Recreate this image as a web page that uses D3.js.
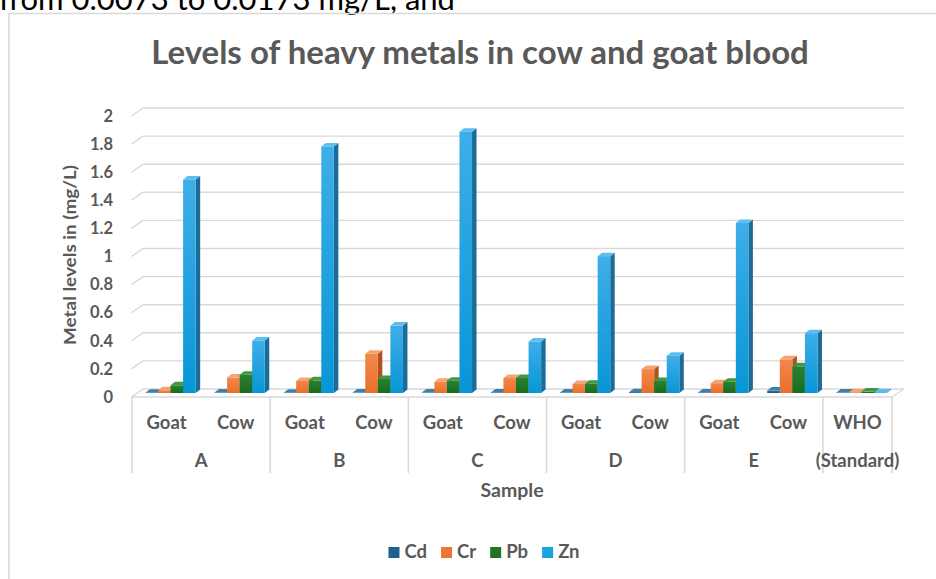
<!DOCTYPE html>
<html>
<head>
<meta charset="utf-8">
<script src="https://cdn.jsdelivr.net/npm/d3@7"></script>
<style>
  html, body { margin: 0; padding: 0; background: #fff; }
  svg { display: block; }
  text { font-family: Lato, "Open Sans", sans-serif; }
</style>
</head>
<body>
<div id="chart"></div>
<script>
// ---------------- data ----------------
const slotLabels  = ["Goat", "Cow", "Goat", "Cow", "Goat", "Cow", "Goat", "Cow", "Goat", "Cow", "WHO"];
const groupLabels = ["A", "B", "C", "D", "E", "(Standard)"];
const groupSpans  = [2, 2, 2, 2, 2, 1];
const seriesNames = ["Cd", "Cr", "Pb", "Zn"];
const cdValues = [0.002, 0.003, 0.002, 0.003, 0.003, 0.004, 0.003, 0.006, 0.004, 0.0173, 0.003];
const crValues = [0.02, 0.11, 0.086, 0.28, 0.08, 0.107, 0.064, 0.17, 0.07, 0.24, 0.005];
const pbValues = [0.055, 0.13, 0.09, 0.10, 0.088, 0.107, 0.066, 0.086, 0.08, 0.19, 0.01];
const znValues = [1.52, 0.374, 1.755, 0.48, 1.86, 0.367, 0.974, 0.266, 1.21, 0.426, 0.005];
const yTicks = [0, 0.2, 0.4, 0.6, 0.8, 1, 1.2, 1.4, 1.6, 1.8, 2];
const titleText = "Levels of heavy metals in cow and goat blood";
const yAxisTitle = "Metal levels in (mg/L)";
const xAxisTitle = "Sample";
const topFragment = "from 0.0073 to 0.0173 mg/L, and";

// ---------------- styles ----------------
const seriesValues = [cdValues, crValues, pbValues, znValues];
const colors = {
  Cd: { front1: "#2a6d98", front2: "#1d5a82", side: "#143f5c", topFace: "#3f80ab", legend: "#1f5f8b" },
  Cr: { front1: "#f3874a", front2: "#e8702a", side: "#b0521c", topFace: "#f6a271", legend: "#ee7634" },
  Pb: { front1: "#2a8130", front2: "#186b1e", side: "#114d15", topFace: "#3f9a45", legend: "#1f7425" },
  Zn: { front1: "#3eaee8", front2: "#0896d6", side: "#1b6c98", topFace: "#5dbdee", legend: "#1aa3e3" }
};
const W = 936, H = 579;
const textColor = "#595959";
const gridColor = "#d9d9d9";
const DX = 11.5, DY = 8;      // wall depth
const BX = 4, BY = 4;         // bar front-face offset into depth
const TX = 4.5, TY = 3.5;     // bar depth (top face)

const svg = d3.select("#chart").append("svg").attr("width", W).attr("height", H);
const defs = svg.append("defs");
seriesNames.forEach(s => {
  const g = defs.append("linearGradient").attr("id", "g" + s)
    .attr("x1", 0).attr("y1", 0).attr("x2", 0).attr("y2", 1);
  g.append("stop").attr("offset", "0%").attr("stop-color", colors[s].front1);
  g.append("stop").attr("offset", "100%").attr("stop-color", colors[s].front2);
});

// top fragment of surrounding text (cut off at the top, as in the source page)
svg.append("text").attr("x", -1).attr("y", 10)
  .attr("font-size", 31).attr("fill", "#000").text(topFragment);

// chart frame
svg.append("path")
  .attr("d", `M9,${H + 2} L9,13.5 L${W + 2},13.5`)
  .attr("fill", "none").attr("stroke", gridColor).attr("stroke-width", 1.6);

// title
svg.append("text").attr("x", 480).attr("y", 64).attr("text-anchor", "middle")
  .attr("font-size", 33).attr("font-weight", "bold").attr("fill", textColor).text(titleText);

// scales
const x0 = 132, x1 = 892;
const xSlot = d3.scaleBand().domain(d3.range(slotLabels.length)).range([x0, x1]).padding(0);
const xSeries = d3.scaleBand().domain(seriesNames).range([0, xSlot.bandwidth()])
  .paddingInner(0).paddingOuter(0.75);
const y = d3.scaleLinear().domain([0, 2]).range([397, 116]);

// gridlines (left wall + back wall)
const grid = svg.append("g");
yTicks.forEach(t => {
  grid.append("path")
    .attr("d", `M${x0 - 0.5},${y(t)} L${x0 - 0.5 + DX},${y(t) - DY} L904,${y(t) - DY}`)
    .attr("fill", "none").attr("stroke", gridColor).attr("stroke-width", 1.4);
});
// floor right edge
grid.append("path").attr("d", `M${x1},${y(0)} L${x1 + 12},${y(0) - DY}`)
  .attr("fill", "none").attr("stroke", gridColor).attr("stroke-width", 1.2);

// y axis labels
const yAxis = d3.axisLeft(y).tickValues(yTicks).tickSize(0).tickPadding(0)
  .tickFormat(d => d3.format("~g")(d));
const yg = svg.append("g").attr("transform", "translate(113,0)").call(yAxis);
yg.select(".domain").remove();
yg.selectAll("text").attr("font-size", 16.5).attr("font-weight", "bold")
  .attr("fill", textColor).attr("font-family", "Lato, 'Open Sans', sans-serif");

// y title
svg.append("text").attr("transform", "translate(76,255) rotate(-90)")
  .attr("text-anchor", "middle").attr("font-size", 17.5).attr("font-weight", "bold")
  .attr("textLength", 180).attr("lengthAdjust", "spacingAndGlyphs")
  .attr("fill", textColor).text(yAxisTitle);

// bars
const bars = svg.append("g");
slotLabels.forEach((lab, i) => {
  seriesNames.forEach((s, k) => {
    const v = seriesValues[k][i];
    const bx = xSlot(i) + xSeries(s) + BX;
    const bw = xSeries.bandwidth();
    const yb = y(0) - BY;
    const yt = y(v) - BY;
    const h = yb - yt;
    const c = colors[s];
    bars.append("path")
      .attr("d", `M${bx + bw},${yb} L${bx + bw + TX},${yb - TY} L${bx + bw + TX},${yt - TY} L${bx + bw},${yt} Z`)
      .attr("fill", c.side);
    bars.append("rect").attr("x", bx).attr("y", yt).attr("width", bw).attr("height", Math.max(h, 0))
      .attr("fill", h > 1 ? `url(#g${s})` : c.front2);
    bars.append("path")
      .attr("d", `M${bx},${yt} L${bx + TX},${yt - TY} L${bx + bw + TX},${yt - TY} L${bx + bw},${yt} Z`)
      .attr("fill", c.topFace);
  });
});

// category axis box
const axisG = svg.append("g");
axisG.append("line").attr("x1", x0).attr("x2", x1).attr("y1", y(0)).attr("y2", y(0))
  .attr("stroke", gridColor).attr("stroke-width", 1.6);
let cum = 0;
const bounds = [0];
groupSpans.forEach(s => { cum += s; bounds.push(cum); });
bounds.forEach(b => {
  const xx = b < slotLabels.length ? xSlot(b) : x1;
  axisG.append("line").attr("x1", xx).attr("x2", xx).attr("y1", y(0)).attr("y2", 473)
    .attr("stroke", gridColor).attr("stroke-width", 1.6);
});
slotLabels.forEach((lab, i) => {
  axisG.append("text").attr("x", xSlot(i) + xSlot.bandwidth() / 2).attr("y", 429)
    .attr("text-anchor", "middle").attr("font-size", 18.5).attr("font-weight", "bold")
    .attr("fill", textColor).text(lab);
});
groupLabels.forEach((lab, gi) => {
  const a = xSlot(bounds[gi]);
  const bEnd = bounds[gi + 1] < slotLabels.length ? xSlot(bounds[gi + 1]) : x1;
  axisG.append("text").attr("x", (a + bEnd) / 2).attr("y", 467)
    .attr("text-anchor", "middle").attr("font-size", 18.5).attr("font-weight", "bold")
    .attr("fill", textColor).text(lab);
});

// x title
svg.append("text").attr("x", (x0 + x1) / 2).attr("y", 497).attr("text-anchor", "middle")
  .attr("font-size", 19.5).attr("font-weight", "bold").attr("fill", textColor).text(xAxisTitle);

// legend
const leg = svg.append("g");
const items = [];
seriesNames.forEach(s => {
  const g = leg.append("g");
  g.append("rect").attr("x", 0).attr("y", -11).attr("width", 11).attr("height", 11)
    .attr("fill", colors[s].legend);
  const t = g.append("text").attr("x", 16).attr("y", 0).attr("font-size", 18.5)
    .attr("font-weight", "bold").attr("fill", textColor).text(s);
  const w = 16 + t.node().getComputedTextLength();
  items.push({ g, w });
});
const gap = 14;
const total = d3.sum(items, d => d.w) + gap * (items.length - 1);
let lx = 484 - total / 2;
items.forEach(it => {
  it.g.attr("transform", `translate(${lx},558)`);
  lx += it.w + gap;
});
</script>
</body>
</html>
